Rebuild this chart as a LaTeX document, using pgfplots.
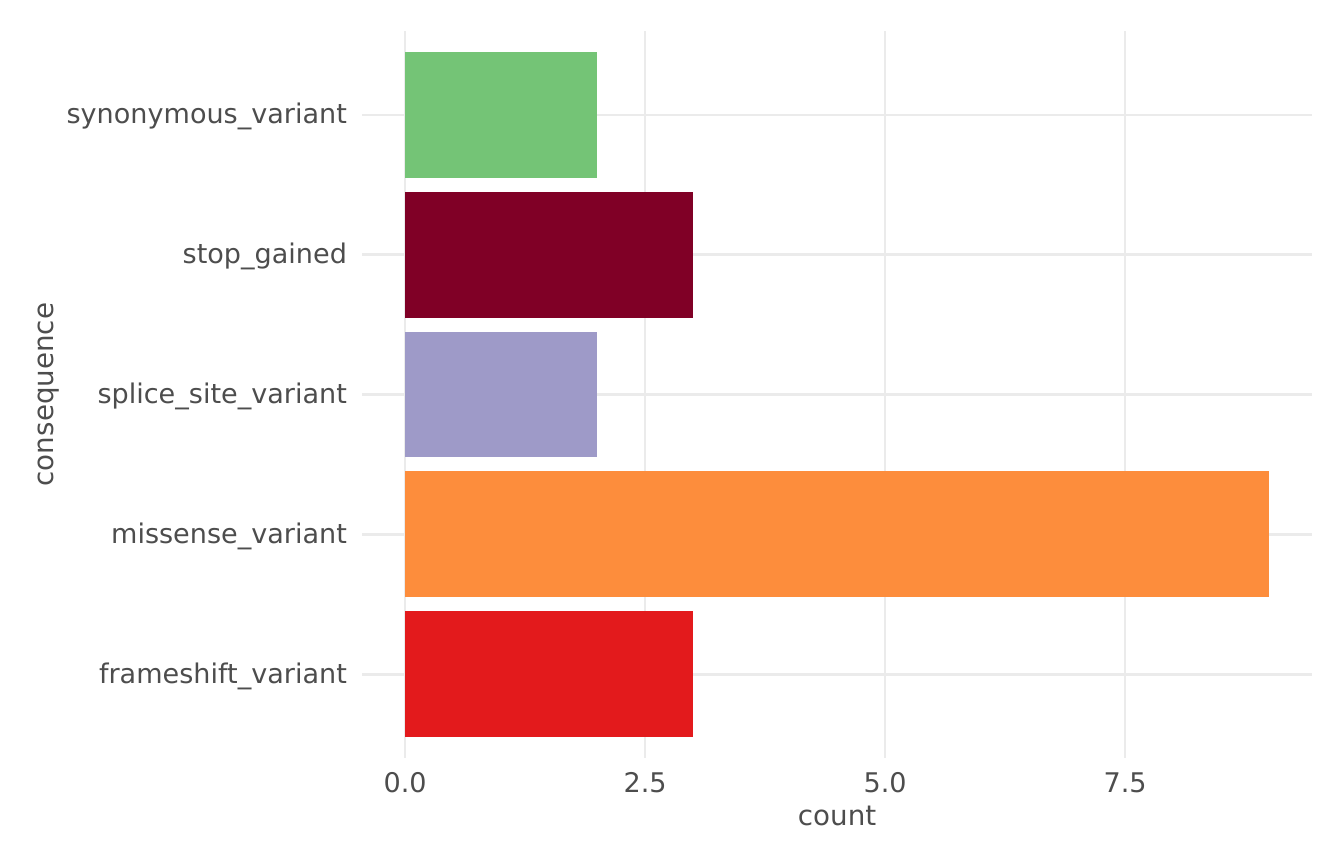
\documentclass[border=0pt]{standalone}
\usepackage{fontspec}
\setmainfont{DejaVu Sans}
\usepackage{pgfplots}
\pgfplotsset{compat=1.18}
\definecolor{ggtext}{HTML}{4D4D4D}
\definecolor{gggrid}{HTML}{EBEBEB}
\definecolor{cfs}{HTML}{E31A1C}
\definecolor{cmis}{HTML}{FD8D3C}
\definecolor{csp}{HTML}{9E9AC8}
\definecolor{cstop}{HTML}{800026}
\definecolor{csyn}{HTML}{74C476}
\begin{document}
\begin{tikzpicture}
\useasboundingbox (0,0) rectangle (504bp,324bp);
\begin{axis}[
  at={(135.7bp,39.75bp)}, anchor=south west,
  scale only axis, width=356.4bp, height=272.6bp,
  xmin=-0.45, xmax=9.45, ymin=0.4, ymax=5.6,
  xtick={0,2.5,5,7.5}, ytick={1,2,3,4,5},
  yticklabels={frameshift\_variant,missense\_variant,splice\_site\_variant,stop\_gained,synonymous\_variant},
  /pgf/number format/assume math mode=true,
  xticklabel={\pgfmathprintnumber[fixed,fixed zerofill,precision=1]{\tick}},
  tick style={draw=none}, major tick length=0pt,
  axis line style={draw=none},
  xmajorgrids, ymajorgrids,
  major grid style={color=gggrid, line width=1.07bp},
  ticklabel style={font=\fontsize{10.15bp}{12bp}\selectfont, text=ggtext},
  xticklabel style={anchor=base, inner sep=0pt, yshift=-12.75bp},
  yticklabel style={anchor=east, inner sep=0pt, xshift=-5.4bp, yshift=-0.7bp},
  label style={font=\fontsize{10.4bp}{12bp}\selectfont, text=ggtext},
  xlabel={count}, ylabel={consequence},
  xlabel style={at={(axis description cs:0.5,-0.0935)}, anchor=base, inner sep=0pt},
  ylabel style={at={(axis description cs:-0.3249,0.5)}, anchor=base, rotate=0, inner sep=0pt},
  xbar, bar width=0.9, bar shift=0pt,
]
\addplot[fill=cfs, draw=none] coordinates {(3,1)};
\addplot[fill=cmis, draw=none] coordinates {(9,2)};
\addplot[fill=csp, draw=none] coordinates {(2,3)};
\addplot[fill=cstop, draw=none] coordinates {(3,4)};
\addplot[fill=csyn, draw=none] coordinates {(2,5)};
\end{axis}
\end{tikzpicture}
\end{document}
